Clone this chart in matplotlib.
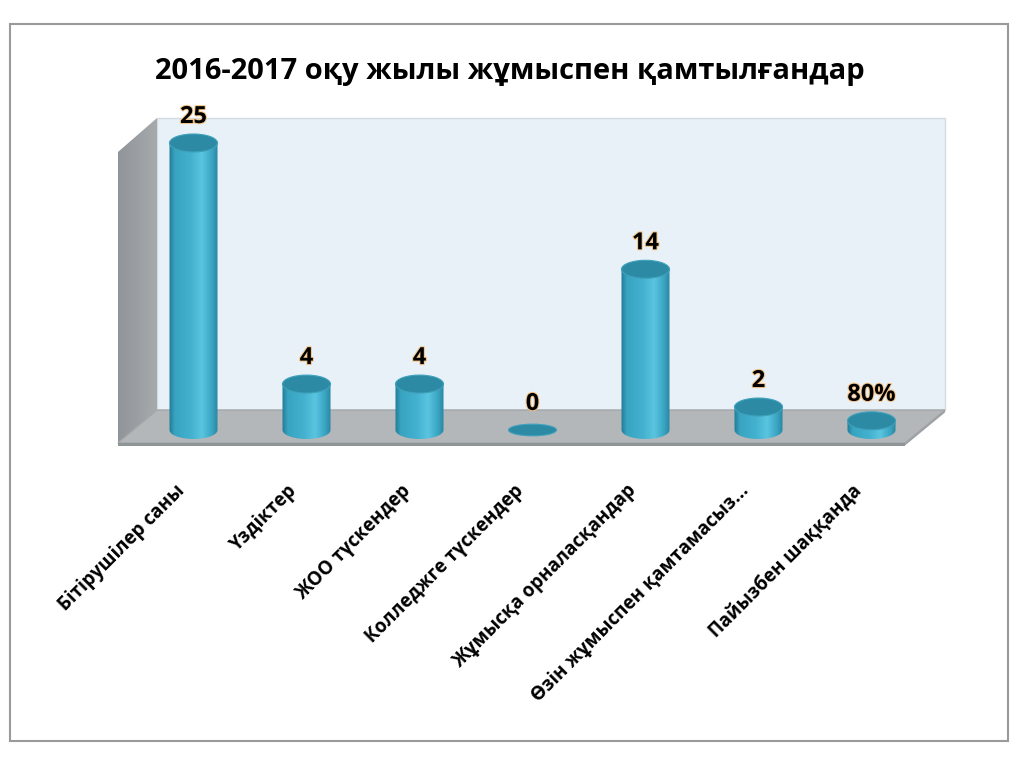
import numpy as np
import matplotlib
matplotlib.use("Agg")
import matplotlib.pyplot as plt
from matplotlib.patches import Polygon, Ellipse, Rectangle
from matplotlib.colors import LinearSegmentedColormap
import matplotlib.patheffects as pe
from matplotlib.transforms import ScaledTranslation

plt.rcParams['font.family'] = ['Open Sans', 'DejaVu Sans']

title = "2016-2017 оқу жылы жұмыспен қамтылғандар"
categories = ["Бітірушілер саны", "Үздіктер", "ЖОО түскендер", "Колледжге түскендер",
              "Жұмысқа орналасқандар", "Өзін жұмыспен қамтамасыз...", "Пайызбен шаққанда"]
values = [25, 4, 4, 0, 14, 2, 0.8]
value_labels = ["25", "4", "4", "0", "14", "2", "80%"]

W, H = 1024, 768
fig = plt.figure(figsize=(10.24, 7.68), dpi=100)

# background axes in pixel coordinates for the 3D-style walls/frame
bg = fig.add_axes([0, 0, 1, 1])
bg.set_xlim(0, W)
bg.set_ylim(H, 0)
bg.axis('off')

# outer chart border
bg.add_patch(Rectangle((10, 24), 998, 717, fill=False, ec='#9a9a9a', lw=1.5))

# back wall
bg.add_patch(Polygon([(157, 118), (945, 118), (945, 410), (157, 410)], closed=True,
                     fc='#e9f1f8', ec='#d4dbe2', lw=1))
# left side wall with gradient
lw_poly = Polygon([(118, 152), (157, 118), (157, 410), (118, 443)], closed=True,
                  fc='none', ec='none')
bg.add_patch(lw_poly)
grad = np.linspace(0, 1, 64).reshape(1, -1)
cm_wall = LinearSegmentedColormap.from_list('wall', ['#90959a', '#a6aaad'])
im = bg.imshow(grad, extent=[118, 157, 443, 118], cmap=cm_wall, aspect='auto', zorder=1)
im.set_clip_path(lw_poly)
# floor
bg.add_patch(Polygon([(157, 410), (945, 410), (905, 443), (118, 443)], closed=True,
                     fc='#b4b7ba', ec='#a3a7aa', lw=1, zorder=2))
# floor front edge
bg.add_patch(Polygon([(118, 443), (905, 443), (905, 445.5), (118, 445.5)], closed=True,
                     fc='#8f9496', ec='none', zorder=2))
bg.add_patch(Polygon([(905, 443), (945, 410), (945, 412.5), (905, 445.5)], closed=True,
                     fc='#9ea2a5', ec='none', zorder=2))

bg.text(510, 71, title, ha='center', va='center', fontsize=21, fontweight='bold',
        color='black')

# main data axes
ax_left, ax_right = 137, 928
ax_top, ax_bot = 100, 460
ax = fig.add_axes([ax_left / W, 1 - ax_bot / H, (ax_right - ax_left) / W, (ax_bot - ax_top) / H])
ax.patch.set_alpha(0)
px_per_unit = (430 - 143) / 25.0
ymin = -(ax_bot - 430) / px_per_unit
ymax = (430 - ax_top) / px_per_unit

bw = 0.425
eh = 18 / px_per_unit

cm_cyl = LinearSegmentedColormap.from_list(
    'cyl', [(0.0, '#237c96'), (0.12, '#38a4c2'), (0.45, '#43b1cf'),
            (0.68, '#5ac5e0'), (0.88, '#3aa5c3'), (1.0, '#2a86a0')])

for i, v in enumerate(values):
    xc = i
    if v > 0:
        t = np.linspace(0, -np.pi, 60)
        pts = [(xc - bw / 2, v)] + [(xc + bw / 2, v)] + \
              [(xc + bw / 2 * np.cos(a), eh / 2 * np.sin(a)) for a in t]
        body = Polygon(pts, closed=True, fc='none', ec='none')
        ax.add_patch(body)
        img = ax.imshow(np.linspace(0, 1, 128).reshape(1, -1),
                        extent=[xc - bw / 2, xc + bw / 2, -eh / 2, v],
                        cmap=cm_cyl, aspect='auto', zorder=3, interpolation='bilinear')
        img.set_clip_path(body)
        ax.add_patch(Ellipse((xc, v), bw, eh, fc='#2d8aa4', ec='#3fa2bc', lw=0.8, zorder=4))
    else:
        ax.add_patch(Ellipse((xc, v), bw, eh * 0.65, fc='#2d8aa4', ec='#3fa2bc', lw=0.8, zorder=4))
    ax.annotate(value_labels[i], (xc, v), xytext=(0, 14), textcoords='offset pixels',
                ha='center', va='bottom', fontsize=17, fontweight='bold', color='black',
                path_effects=[pe.withStroke(linewidth=1.5, foreground='#f3c488')], zorder=5)

ax.set_xlim(-0.5, len(values) - 0.5)
ax.set_ylim(ymin, ymax)
ax.set_xticks(range(len(categories)))
ax.set_xticklabels(categories, rotation=45, ha='right', va='center',
                   rotation_mode='anchor', fontsize=13.5, fontweight='bold')
ax.tick_params(axis='x', length=0, pad=20)
for lab in ax.get_xticklabels():
    lab.set_transform(lab.get_transform() + ScaledTranslation(-12 / 100, 0, fig.dpi_scale_trans))
ax.set_yticks([])
for s in ax.spines.values():
    s.set_visible(False)

fig.savefig('out.png', dpi=100)
